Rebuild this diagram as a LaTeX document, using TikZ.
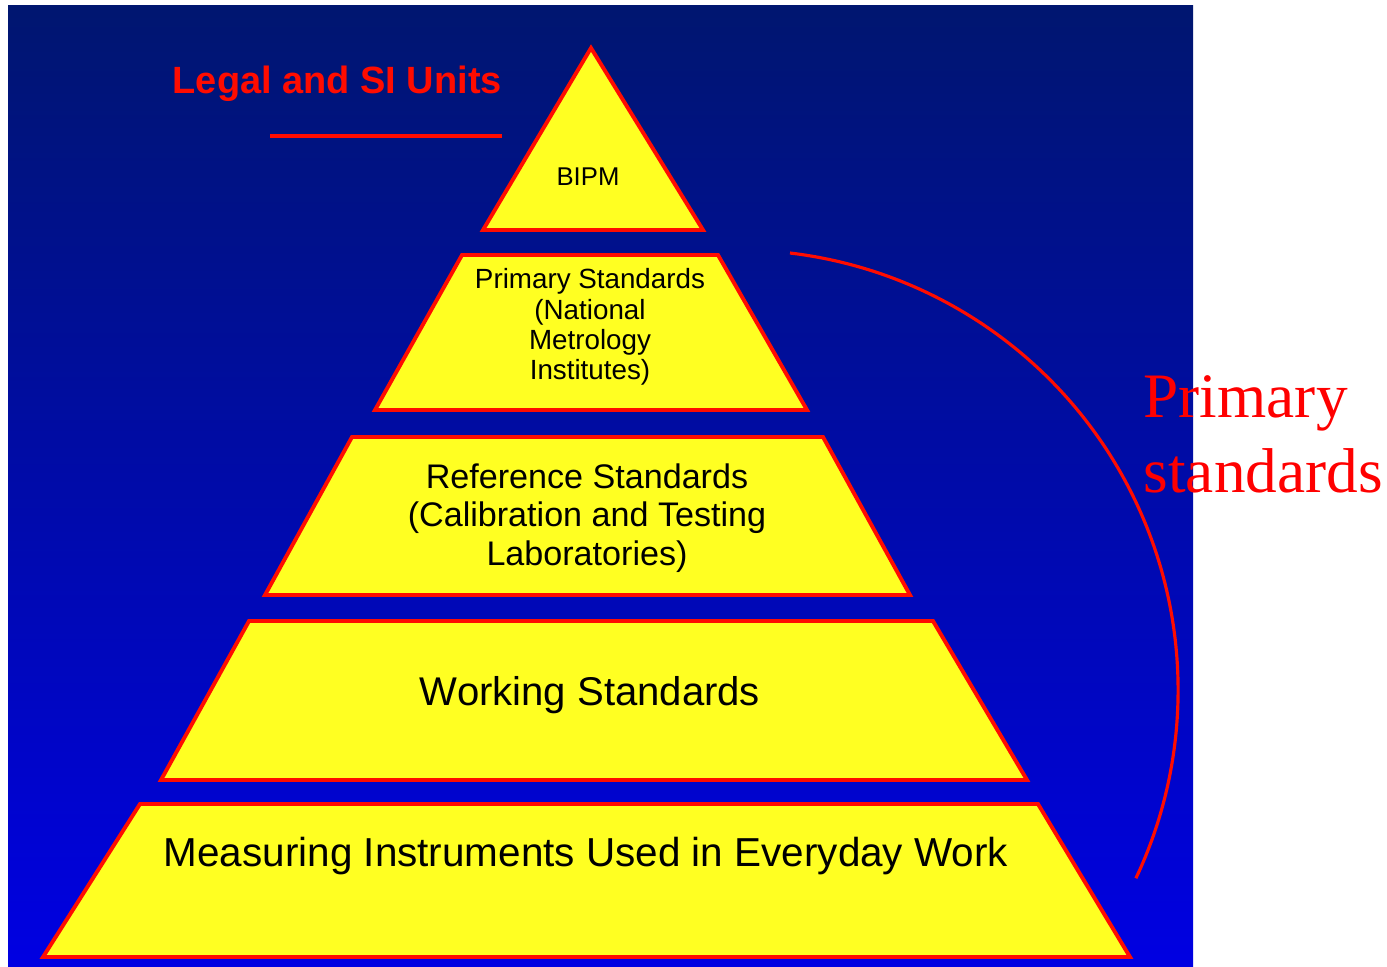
\documentclass[tikz,border=0pt]{standalone}
\usepackage{fontspec}
\setmainfont{Liberation Sans}
\newfontfamily\serifface{Liberation Serif}
\definecolor{navytop}{RGB}{0,22,112}
\definecolor{navymid}{RGB}{0,3,160}
\definecolor{bluebot}{RGB}{0,0,226}
\definecolor{layerfill}{RGB}{255,255,34}
\definecolor{edgered}{RGB}{255,12,0}
\tikzset{
  layer/.style={fill=layerfill, draw=edgered, line width=1.1pt, line join=miter},
  layertext/.style={text=black, align=center, inner sep=0pt},
  redmark/.style={draw=edgered, line width=1pt},
}
\begin{document}
\begin{tikzpicture}[x=0.01cm, y=-0.01cm]
  % page and slide background
  \useasboundingbox (0,0) rectangle (1387,966);
  \fill[white] (0,0) rectangle (1387,966);
  \shade[top color=navytop, middle color=navymid, bottom color=bluebot] (8,5) rectangle (1193,966);

  % heading and its rule
  \node[anchor=base west, inner sep=0pt, text=edgered, font=\fontsize{10.8}{13}\selectfont\bfseries] (legal) at (172,93) {Legal and SI Units};
  \coordinate (ruleL) at (270,136);
  \coordinate (ruleR) at (502,136);
  \draw[redmark, line width=1pt] (ruleL) -- (ruleR);

  % pyramid layers, top to bottom
  \draw[layer] (591,48) -- (703,230) -- (483,230) -- cycle;
  \draw[layer] (462,255) -- (718,255) -- (807,410) -- (375,410) -- cycle;
  \draw[layer] (352,437) -- (823,437) -- (910,595) -- (265,595) -- cycle;
  \draw[layer] (249,621) -- (933,621) -- (1027,780) -- (161,780) -- cycle;
  \draw[layer] (140,804) -- (1038,804) -- (1130,957) -- (43,957) -- cycle;

  % layer labels
  \node[layertext, anchor=base, font=\fontsize{7.3}{8.6}\selectfont] (bipm) at (588,185) {BIPM};
  \node[layertext, font=\fontsize{7.9}{8.6}\selectfont] (primary) at (590,327)
    {Primary Standards\\(National\\Metrology\\Institutes)};
  \node[layertext, font=\fontsize{9.7}{10.95}\selectfont] (reference) at (587,518)
    {Reference Standards\\(Calibration and Testing\\Laboratories)};
  \node[layertext, font=\fontsize{11.4}{13}\selectfont] (working) at (590,695) {Working Standards};
  \node[layertext, font=\fontsize{11.5}{13}\selectfont] (measuring) at (586,856)
    {Measuring Instruments Used in Everyday Work};

  % bracket arc spanning the upper layers
  \coordinate (arcstart) at (790,253);
  \draw[redmark, line width=0.9pt] (arcstart) arc[start angle=83.2, end angle=-25.3, radius=4.4cm];

  % side caption
  \node[anchor=north west, inner sep=0pt, align=left, text=red, font=\serifface\fontsize{18}{21.3}\selectfont] (caption) at (1143,375)
    {Primary\\standards};
\end{tikzpicture}
\end{document}
